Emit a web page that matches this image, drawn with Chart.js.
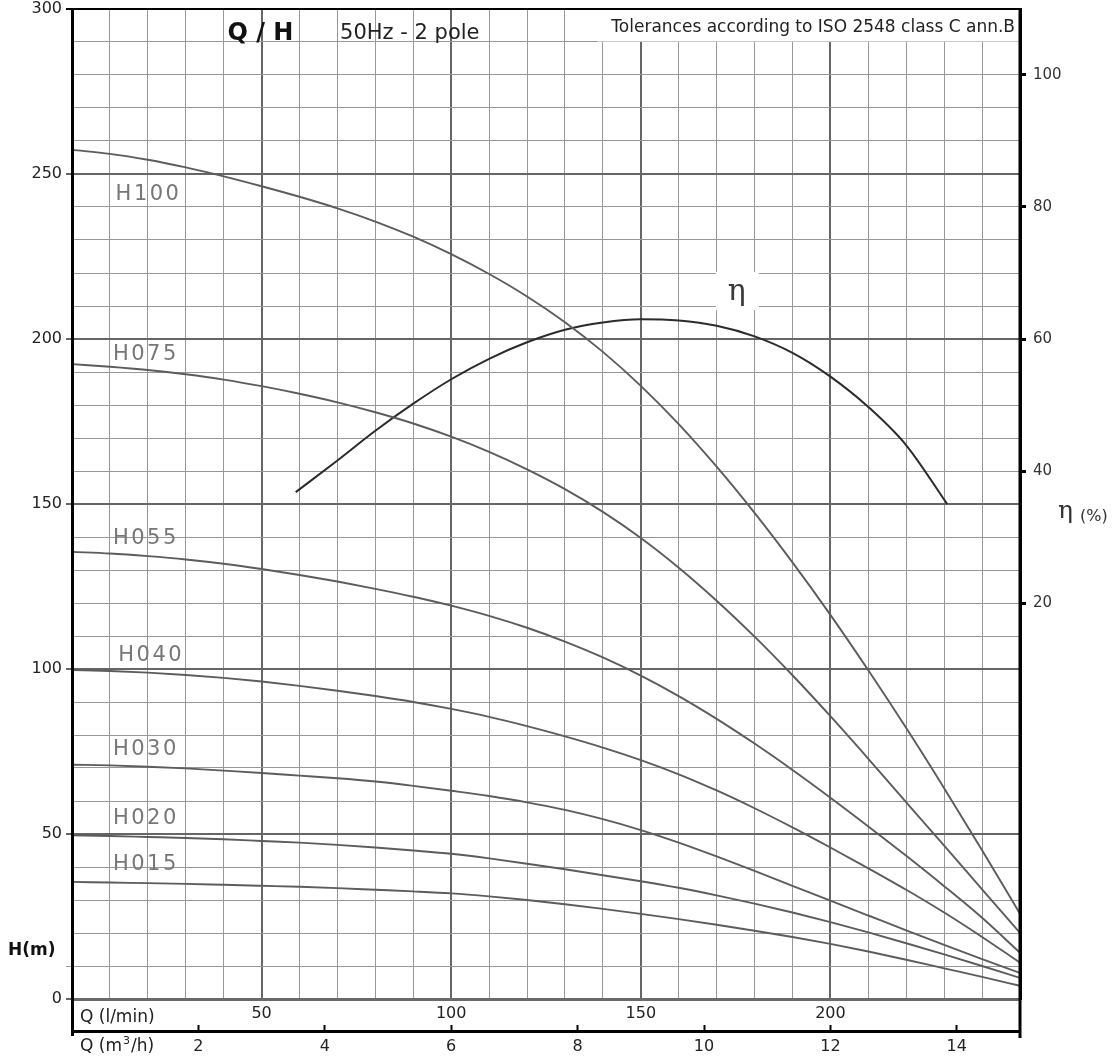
<!DOCTYPE html>
<html>
<head>
<meta charset="utf-8">
<script src="https://cdn.jsdelivr.net/npm/chart.js@4.4.1/dist/chart.umd.min.js"></script>
<style>
html,body{margin:0;padding:0;background:#fff;}
#wrap{width:1113px;height:1059px;position:relative;}
</style>
</head>
<body>
<div id="wrap"><canvas id="c" width="1113" height="1059"></canvas></div>
<script>
// ---------- DATA ----------
const flowLmin = [0,10,20,30,40,50,60,70,80,90,100,110,120,130,140,150,160,170,180,190,200,210,220,230,240,250];
const h100 = [257.3,256.1,254.3,252.0,249.3,246.3,243.1,239.6,235.6,231.0,225.7,219.7,212.9,205.1,196.1,185.8,174.2,161.3,147.3,132.3,116.4,99.6,82.1,63.9,45.1,25.8];
const h075 = [192.4,191.6,190.6,189.3,187.7,185.7,183.4,180.8,177.8,174.4,170.4,165.8,160.5,154.5,147.6,139.7,130.7,120.7,109.8,98.1,85.7,72.8,59.6,46.5,33.2,20.0];
const h055 = [135.5,135.0,134.2,133.2,131.9,130.3,128.5,126.5,124.3,121.9,119.2,116.1,112.5,108.3,103.5,98.0,91.8,84.9,77.4,69.4,61.0,52.3,43.4,34.2,24.6,14.0];
const h040 = [99.7,99.4,98.9,98.2,97.3,96.2,94.9,93.4,91.8,90.0,87.9,85.5,82.7,79.6,76.2,72.4,68.1,63.2,57.8,52.0,45.9,39.6,33.1,26.2,18.8,11.0];
const h030 = [71.0,70.8,70.4,69.9,69.2,68.5,67.7,66.9,65.9,64.6,63.1,61.5,59.6,57.3,54.5,51.2,47.4,43.2,38.8,34.3,29.8,25.3,20.8,16.4,12.1,7.9];
const h020 = [49.6,49.4,49.1,48.8,48.4,47.9,47.4,46.7,45.9,45.0,44.0,42.6,41.0,39.3,37.5,35.7,33.7,31.4,28.9,26.2,23.3,20.2,16.9,13.5,10.0,6.4];
const h015 = [35.5,35.3,35.1,34.9,34.6,34.3,34.0,33.6,33.1,32.6,32.0,31.1,30.0,28.7,27.3,25.8,24.2,22.5,20.7,18.8,16.7,14.4,11.9,9.3,6.7,4.0];
const curveNames = ['H100','H075','H055','H040','H030','H020','H015'];

const etaFlow = [59,70,80,90,100,110,120,130,140,150,160,170,180,190,200,210,220,230.8];
const etaPct  = [36.8,41.6,46.1,50.2,53.9,57.0,59.5,61.4,62.5,63.0,62.8,62.0,60.4,57.9,54.3,49.7,43.9,35.0];

const headLabels = [0,50,100,150,200,250,300];
const flowLabels = [50,100,150,200];
const m3hLabels = [2,4,6,8,10,12,14];
const etaLabels = [20,40,60,80,100];

// ---------- STYLE / ANNOTATION PLACEMENT ----------
const SANS = "'DejaVu Sans', Verdana, sans-serif";
Chart.defaults.font.family = SANS;
const MAJOR = '#666666', MINOR = '#979797', CURVE = '#5c5c5c', ETA = '#2b2b2b';
const curveLabelPos = [[11.5,243.9],[10.8,195.2],[10.8,139.4],[12.2,104.2],[10.8,75.5],[10.8,54.8],[10.8,40.6]];

const curveSeries = [h100,h075,h055,h040,h030,h020,h015];
const datasets = curveSeries.map((vals,i)=>({
  label: curveNames[i],
  data: flowLmin.map((q,j)=>({x:q,y:vals[j]})),
  borderColor: CURVE, borderWidth: 1.9, pointRadius: 0, cubicInterpolationMode:'monotone',
  fill:false, xAxisID:'x', yAxisID:'y'
}));
datasets.push({
  label:'η',
  data: etaFlow.map((q,j)=>({x:q,y:etaPct[j]})),
  borderColor: ETA, borderWidth: 2, pointRadius: 0, cubicInterpolationMode:'monotone',
  fill:false, xAxisID:'x', yAxisID:'y2'
});

function gridCol(v, top){ if (v===top) return '#000'; return v%50===0 ? MAJOR : MINOR; }
function gridW(v, top){ if (v===top) return 2; return v%50===0 ? 2 : 1; }

function txt(ctx, s, x, y, font, color, align, ls){
  ctx.font = font; ctx.fillStyle = color; ctx.textAlign = align || 'left';
  ctx.textBaseline = 'middle'; ctx.letterSpacing = ls || '0px';
  ctx.fillText(s, x, y); ctx.letterSpacing = '0px';
}

const annot = {
  id:'annot',
  beforeDatasetsDraw(chart){
    const {ctx, chartArea:a, scales:{x,y}} = chart;
    ctx.save();
    ctx.fillStyle = '#fff';
    const tolLeft = x.getPixelForValue(138.5);
    ctx.fillRect(tolLeft, a.top+1, a.right - tolLeft - 1, y.getPixelForValue(290) - a.top - 1.5);
    const ex = x.getPixelForValue(175.3), ey = y.getPixelForValue(214.2);
    ctx.fillRect(ex-21, ey-20, 43, 38);
    ctx.restore();
  },
  afterDraw(chart){
    const {ctx, chartArea:a, scales:{x,y,x2,y2}} = chart;
    ctx.save();
    ctx.strokeStyle = '#000'; ctx.lineWidth = 3;
    ctx.beginPath(); ctx.moveTo(a.left+0.5, a.top); ctx.lineTo(a.left+0.5, x2.top+5); ctx.stroke();
    ctx.beginPath(); ctx.moveTo(a.right, a.top); ctx.lineTo(a.right, x2.top+7); ctx.stroke();
    ctx.lineWidth = 2;
    ctx.beginPath(); ctx.moveTo(a.left-6, a.top); ctx.lineTo(a.right, a.top); ctx.stroke();

    curveNames.forEach((n,i)=>{
      const p = curveLabelPos[i];
      txt(ctx, n, x.getPixelForValue(p[0]), y.getPixelForValue(p[1]), '21px '+SANS, '#777', 'left', '2.5px');
    });
    txt(ctx, 'Q / H', x.getPixelForValue(41), y.getPixelForValue(292.6), 'bold 24px '+SANS, '#111', 'left');
    txt(ctx, '50Hz - 2 pole', x.getPixelForValue(70.7), y.getPixelForValue(292.6), '21px '+SANS, '#222', 'left');
    txt(ctx, 'Tolerances according to ISO 2548 class C ann.B', a.right-5, y.getPixelForValue(294.5), '17px '+SANS, '#222', 'right');
    txt(ctx, 'η', x.getPixelForValue(175.3), y.getPixelForValue(214.2), '30px "DejaVu Serif", serif', '#3a3a3a', 'center');
    const ry = y.getPixelForValue(147);
    txt(ctx, 'η', a.right+38, ry-2, '25px "DejaVu Serif", serif', '#333', 'left');
    txt(ctx, '(%)', a.right+60, ry+3, '16px '+SANS, '#333', 'left');
    txt(ctx, 'H(m)', 8, y.getPixelForValue(14.8), 'bold 17px '+SANS, '#111', 'left');
    txt(ctx, 'Q (l/min)', a.left+8, x.top+19, '17px '+SANS, '#222', 'left');
    ctx.font = '17px '+SANS;
    const w1 = ctx.measureText('Q (m').width;
    txt(ctx, 'Q (m', a.left+8, x2.top+16, '17px '+SANS, '#222', 'left');
    txt(ctx, '3', a.left+8+w1+1, x2.top+10, '11px '+SANS, '#222', 'left');
    ctx.font = '11px '+SANS;
    const w2 = ctx.measureText('3').width;
    txt(ctx, '/h)', a.left+8+w1+w2+2, x2.top+16, '17px '+SANS, '#222', 'left');
    ctx.restore();
  }
};

new Chart(document.getElementById('c'), {
  type:'line',
  data:{datasets},
  plugins:[annot],
  options:{
    responsive:false, animation:false,
    layout:{padding:{top:9,left:0,right:0,bottom:0}},
    plugins:{legend:{display:false}, tooltip:{enabled:false}},
    scales:{
      x:{
        type:'linear', position:'bottom', min:0, max:250,
        ticks:{stepSize:10, autoSkip:false, maxRotation:0, minRotation:0, padding:5,
          font:{size:16}, color:'#222',
          callback:(v)=> flowLabels.includes(v) ? String(v) : ''},
        grid:{drawTicks:false, color:(c)=>gridCol(c.tick.value, -1), lineWidth:(c)=>gridW(c.tick.value,-1)},
        border:{display:true, color:'#6a6a6a', width:3},
        afterFit:(s)=>{ s.height = 32; s.paddingLeft = 0; s.paddingRight = 0; }
      },
      x2:{
        type:'linear', position:'bottom', min:0, max:15,
        ticks:{stepSize:2, includeBounds:false, autoSkip:false, maxRotation:0, minRotation:0, padding:12,
          font:{size:16}, color:'#222',
          callback:(v)=> m3hLabels.includes(v) ? String(v) : ''},
        grid:{drawOnChartArea:false, drawTicks:true, tickLength:-6, tickColor:'#000', tickWidth:2},
        border:{display:true, color:'#000', width:3},
        afterFit:(s)=>{ s.height = 28; s.paddingLeft = 0; s.paddingRight = 0; }
      },
      y:{
        type:'linear', position:'left', min:0, max:300,
        ticks:{stepSize:10, autoSkip:false, padding:4, font:{size:16}, color:'#222',
          callback:(v)=> headLabels.includes(v) ? String(v) : ''},
        grid:{color:(c)=>gridCol(c.tick.value,300), lineWidth:(c)=>gridW(c.tick.value,300),
          drawTicks:true, tickLength:6,
          tickColor:(c)=>{const v=c.tick.value; return (v%50===0||v===10) ? gridCol(v,300) : 'rgba(0,0,0,0)';},
          tickWidth:(c)=>gridW(c.tick.value,300)},
        border:{display:true, color:'#000', width:3},
        afterFit:(s)=>{ s.width = 72; s.paddingTop = 0; s.paddingBottom = 0; }
      },
      y2:{
        type:'linear', position:'right', min:-40, max:110,
        ticks:{stepSize:20, includeBounds:false, autoSkip:false, padding:7, font:{size:15}, color:'#333',
          callback:(v)=> etaLabels.includes(v) ? String(v) : ''},
        grid:{drawOnChartArea:false, drawTicks:true, tickLength:6, tickWidth:3,
          tickColor:(c)=> etaLabels.includes(c.tick.value) ? '#000' : 'rgba(0,0,0,0)'},
        border:{display:true, color:'#000', width:3},
        afterFit:(s)=>{ s.width = 93; s.paddingTop = 0; s.paddingBottom = 0; }
      }
    }
  }
});
</script>
</body>
</html>
